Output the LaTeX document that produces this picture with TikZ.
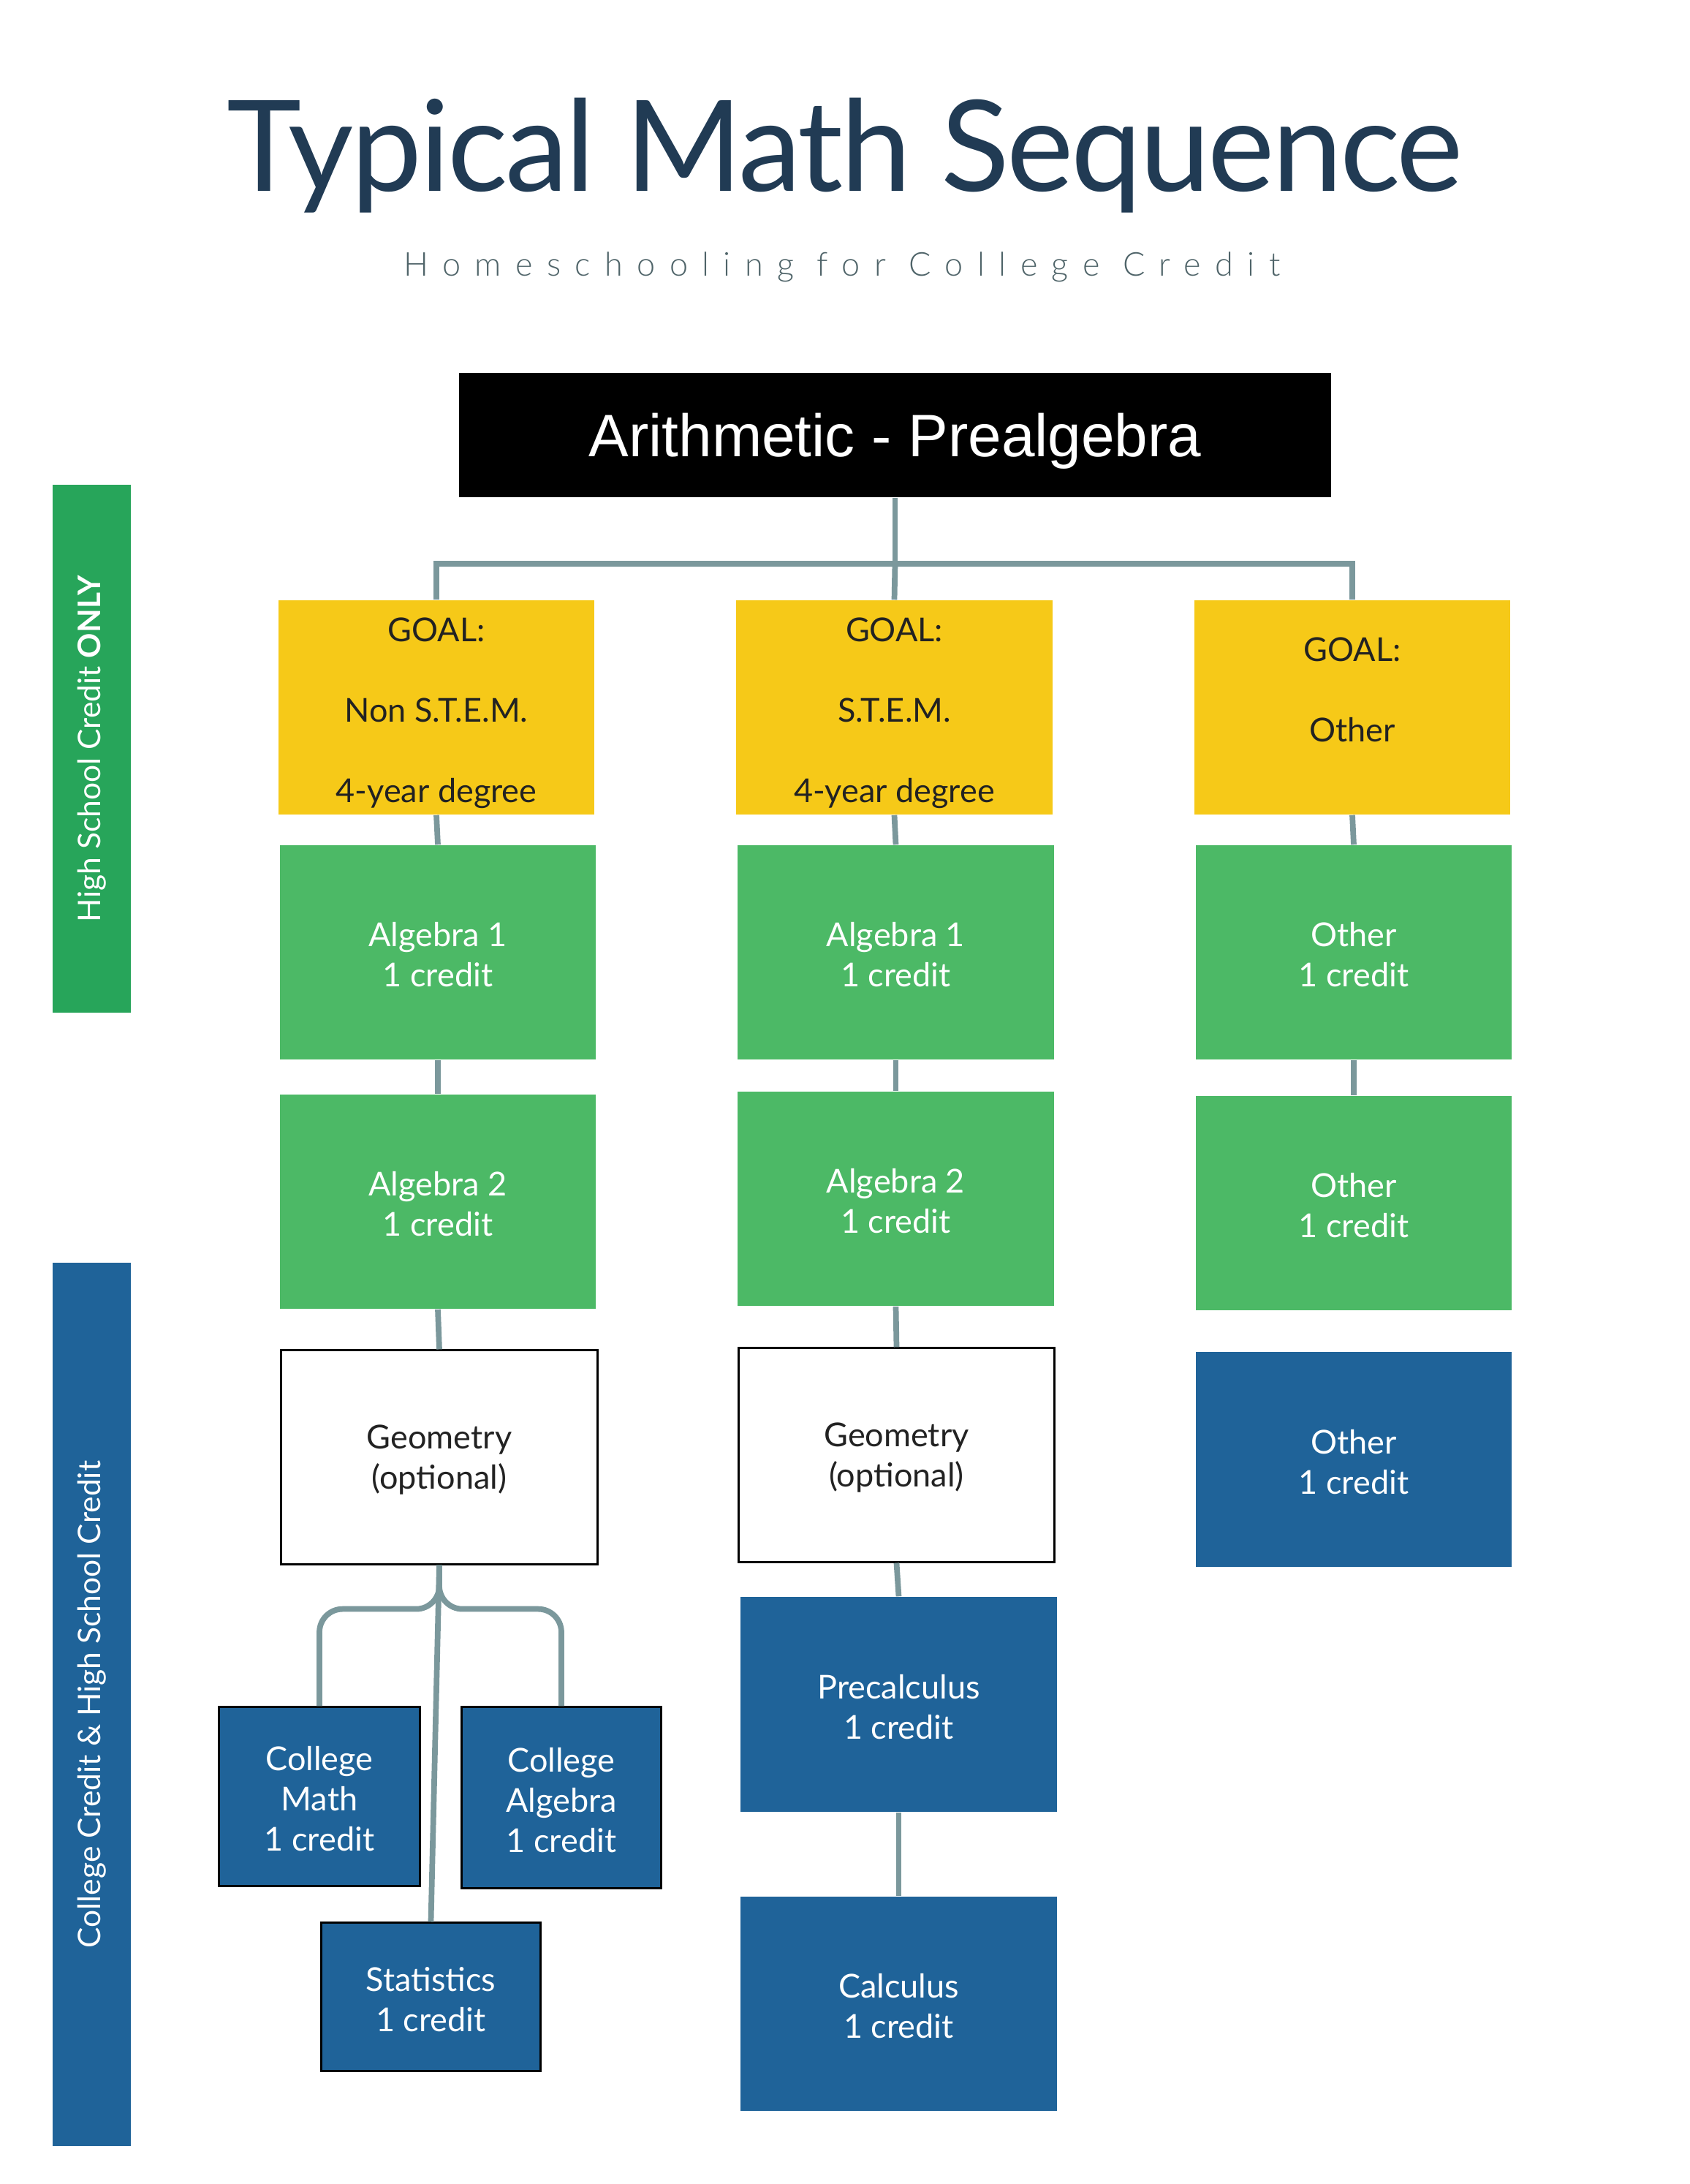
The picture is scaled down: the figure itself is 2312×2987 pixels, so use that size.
\documentclass[tikz,border=0pt]{standalone}
\usepackage{fontspec}
\setmainfont{Lato}
\newfontfamily\arialf{Liberation Sans}
\newfontfamily\titlef[LetterSpace=-2]{Lato}
\newfontfamily\subf[LetterSpace=43]{Lato Light}
\newcommand\topr[1]{\rule{0pt}{#1pt}}
\definecolor{titlenavy}{HTML}{213B54}
\definecolor{subgray}{HTML}{4F6469}
\definecolor{goalyellow}{HTML}{F6C918}
\definecolor{boxgreen}{HTML}{4CB966}
\definecolor{sidegreen}{HTML}{27A55A}
\definecolor{boxblue}{HTML}{1F6399}
\definecolor{connc}{HTML}{7B989C}
\definecolor{goaltext}{HTML}{222222}
\tikzset{
  boxtxt/.style={font=\fontsize{12.8}{15.65}\selectfont, align=center, inner sep=0pt},
  goalbox/.style={boxtxt, fill=goalyellow, text=goaltext, minimum width=4.32cm, minimum height=2.93cm},
  greenbox/.style={boxtxt, fill=boxgreen, text=white, minimum width=4.32cm, minimum height=2.93cm},
  bluebox/.style={boxtxt, fill=boxblue, text=white, minimum width=4.32cm, minimum height=2.93cm},
  whitebox/.style={boxtxt, fill=white, draw=black, line width=0.85pt, text=goaltext, minimum width=4.32cm, minimum height=2.92cm},
  smallblue/.style={boxtxt, fill=boxblue, draw=black, line width=0.85pt, text=white},
  sidebar/.style={inner sep=0pt, text=white, font=\fontsize{12.1}{14}\selectfont},
  conn/.style={draw=connc, line width=2.2pt}
}
\begin{document}
\begin{tikzpicture}[x=0.01cm, y=-0.01cm]
\useasboundingbox (0,0) rectangle (2312,2987);
\fill[white] (0,0) rectangle (2312,2987);
% title
\node[anchor=base, inner sep=0pt, text=titlenavy, font=\titlef\fontsize{49.2}{55}\selectfont] (title) at (1156,261) {Typical Math Sequence};
\node[anchor=base, inner sep=0pt, text=subgray, font=\subf\fontsize{12.8}{15}\selectfont] (subtitle) at (1152,377) {Homeschooling for College Credit};
% sidebars
\node[sidebar, fill=sidegreen, minimum width=1.07cm, minimum height=7.22cm] (sideg) at (125.5,1024) {};
\node[sidebar, rotate=90] (sidegt) at (sideg.center) {High School Credit \textbf{ONLY}};
\node[sidebar, fill=boxblue, minimum width=1.07cm, minimum height=12.08cm] (sideb) at (125.5,2331) {};
\node[sidebar, rotate=90] (sidebt) at (sideb.center) {College Credit \& High School Credit};
% top box
\node[fill=black, text=white, inner sep=0pt, text depth=0pt, minimum width=11.93cm, minimum height=1.70cm, font=\arialf\fontsize{23.3}{28}\selectfont] (ab) at (1224.5,595) {Arithmetic - Prealgebra};
% goals
\node[goalbox] (g1) at (597,967.5) {\topr{13.5}GOAL:\\\mbox{}\\Non S.T.E.M.\\\mbox{}\\4-year degree};
\node[goalbox] (g2) at (1223.5,967.5) {\topr{13.5}GOAL:\\\mbox{}\\S.T.E.M.\\\mbox{}\\4-year degree};
\node[goalbox] (g3) at (1850,967.5) {\topr{11.2}GOAL:\\\mbox{}\\Other\\\mbox{}};
% green row 1
\node[greenbox] (a1) at (599,1302.5) {\topr{11.4}Algebra 1\\1 credit};
\node[greenbox] (s1) at (1225.5,1302.5) {\topr{11.4}Algebra 1\\1 credit};
\node[greenbox] (o1) at (1852,1302.5) {\topr{11.4}Other\\1 credit};
% green row 2
\node[greenbox] (a2) at (599,1643.5) {\topr{11.4}Algebra 2\\1 credit};
\node[greenbox] (s2) at (1225.5,1639.5) {\topr{11.4}Algebra 2\\1 credit};
\node[greenbox] (o2) at (1852,1645.5) {\topr{11.4}Other\\1 credit};
% geometry row
\node[whitebox] (geo1) at (601,1993) {\topr{11.4}Geometry\\(optional)};
\node[whitebox] (geo2) at (1226.5,1990) {\topr{11.4}Geometry\\(optional)};
\node[bluebox] (o3) at (1852,1996) {\topr{11.4}Other\\1 credit};
% col 2 lower
\node[bluebox, minimum width=4.33cm, minimum height=2.94cm] (pre) at (1229.5,2331) {\topr{11.4}Precalculus\\1 credit};
\node[bluebox, minimum width=4.33cm, minimum height=2.93cm] (calc) at (1229.5,2740.5) {\topr{11.4}Calculus\\1 credit};
% col 1 lower
\node[smallblue, minimum width=2.74cm, minimum height=2.44cm] (cm) at (437,2457) {\topr{11.4}College\\Math\\1 credit};
\node[smallblue, minimum width=2.73cm, minimum height=2.47cm] (ca) at (768,2458.5) {\topr{11.4}College\\Algebra\\1 credit};
\node[smallblue, minimum width=2.99cm, minimum height=2.02cm] (st) at (589.5,2731) {\topr{11.4}Statistics\\1 credit};
% connectors
\coordinate (hy) at (0,771);
\draw[conn] (ab.south) -- (ab.south |- hy);
\draw[conn] (g1.north) |- (ab.south |- hy) -| (g3.north);
\draw[conn] (ab.south |- hy) -- (g2.north);
\draw[conn] (g1.south) -- (a1.north);
\draw[conn] (a1.south) -- (a2.north);
\draw[conn] (a2.south) -- (geo1.north);
\draw[conn] (g2.south) -- (s1.north);
\draw[conn] (s1.south) -- (s2.north);
\draw[conn] (s2.south) -- (geo2.north);
\draw[conn] (geo2.south) -- (pre.north);
\draw[conn] (pre.south) -- (calc.north);
\draw[conn] (g3.south) -- (o1.north);
\draw[conn] (o1.south) -- (o2.north);
\draw[conn, rounded corners=9pt] (geo1.south) -- ++(0,60) -| (cm.north);
\draw[conn, rounded corners=9pt] (geo1.south) -- ++(0,60) -| (ca.north);
\draw[conn] (geo1.south) -- (st.north);
\end{tikzpicture}
\end{document}
